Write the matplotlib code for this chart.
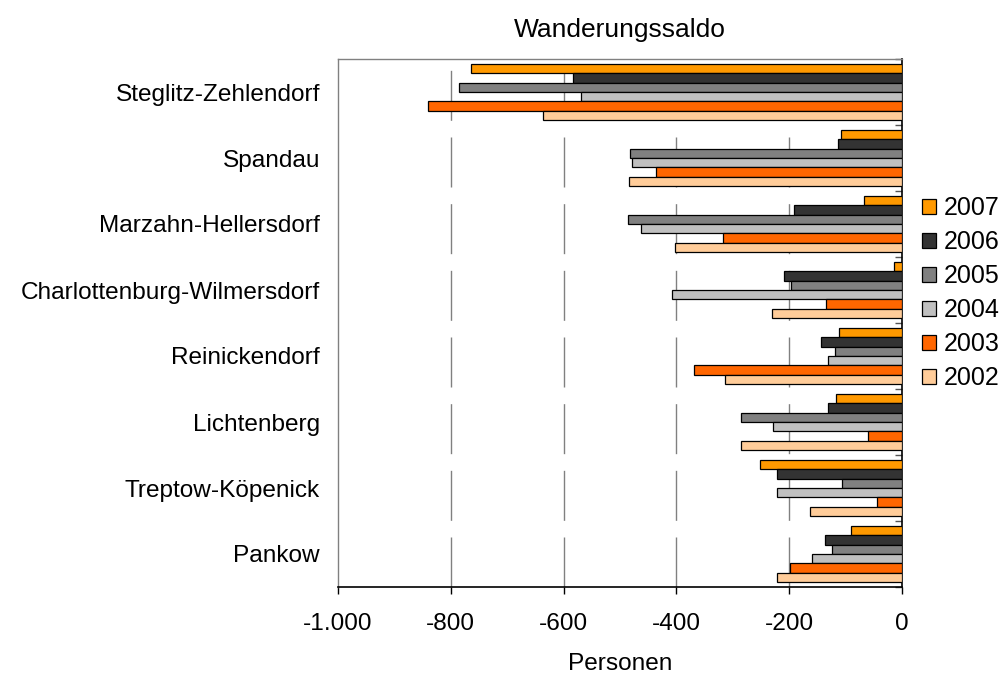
import matplotlib
matplotlib.use("Agg")
import matplotlib.pyplot as plt
import numpy as np
from matplotlib.patches import Patch

plt.rcParams['font.family'] = ['Liberation Sans', 'DejaVu Sans']

categories = ["Steglitz-Zehlendorf", "Spandau", "Marzahn-Hellersdorf",
              "Charlottenburg-Wilmersdorf", "Reinickendorf", "Lichtenberg",
              "Treptow-Köpenick", "Pankow"]
years = ["2007", "2006", "2005", "2004", "2003", "2002"]
v2007 = [-764, -109, -67, -14, -111, -117, -252, -90]
v2006 = [-583, -114, -191, -209, -144, -132, -222, -137]
v2005 = [-786, -482, -486, -196, -118, -286, -107, -124]
v2004 = [-569, -478, -463, -408, -132, -229, -222, -159]
v2003 = [-841, -436, -318, -135, -368, -60, -45, -199]
v2002 = [-637, -484, -402, -230, -313, -286, -163, -222]
series = [v2007, v2006, v2005, v2004, v2003, v2002]
colors = ["#FF9900", "#333333", "#808080", "#C0C0C0", "#FF6600", "#FFCC99"]
xticks = [-1000, -800, -600, -400, -200, 0]
xticklabels = ["-1.000", "-800", "-600", "-400", "-200", "0"]

FS = 17.6

fig = plt.figure(figsize=(10.06, 6.75), dpi=100)
ax = fig.add_axes([338/1006, 1-587/675, (902-338)/1006, (587-59)/675])

n = len(categories)
bh = 0.143
centers = np.arange(n)
for i, (vals, c) in enumerate(zip(series, colors)):
    y = centers + (i - 2.5) * bh
    ax.barh(y, vals, height=bh, color=c, edgecolor="black", linewidth=0.9, zorder=3)

ax.set_xlim(-1000, 0)
ax.set_ylim(n - 0.5, -0.5)
ax.set_xticks(xticks)
ax.set_xticklabels(xticklabels, fontsize=FS)
ax.set_yticks(centers)
ax.set_yticklabels(categories, fontsize=FS)
ax.tick_params(axis='y', length=0, pad=13)
ax.tick_params(axis='x', direction='out', length=5, width=1, color='black', pad=14)

# category separators on the right axis
ax.set_yticks(np.arange(-0.5, n, 1.0), minor=True)
ax.tick_params(axis='y', which='minor', left=False, right=True, direction='in', length=5, width=1, color='#555555')

for xv in xticks[1:-1]:
    ax.axvline(xv, color='#808080', linewidth=1, linestyle=(0, (36, 12)), zorder=1)

for s in ['top', 'left']:
    ax.spines[s].set_color('#808080')
    ax.spines[s].set_linewidth(1)
for s in ['bottom', 'right']:
    ax.spines[s].set_color('black')
    ax.spines[s].set_linewidth(1.2)

ax.set_xlabel("Personen", fontsize=FS, labelpad=13)
fig.text(620/1006, 1-30/675, "Wanderungssaldo", fontsize=19, ha='center', va='center')

handles = [Patch(facecolor=c, edgecolor='black', linewidth=0.9, label=y) for y, c in zip(years, colors)]
fig.legend(handles=handles, loc='center left', bbox_to_anchor=(922/1006, 1-293/675),
           frameon=False, fontsize=18, handlelength=0.55, handleheight=0.55,
           handletextpad=0.33, labelspacing=0.4, borderpad=0, borderaxespad=0)

fig.savefig("out.png", dpi=100)
